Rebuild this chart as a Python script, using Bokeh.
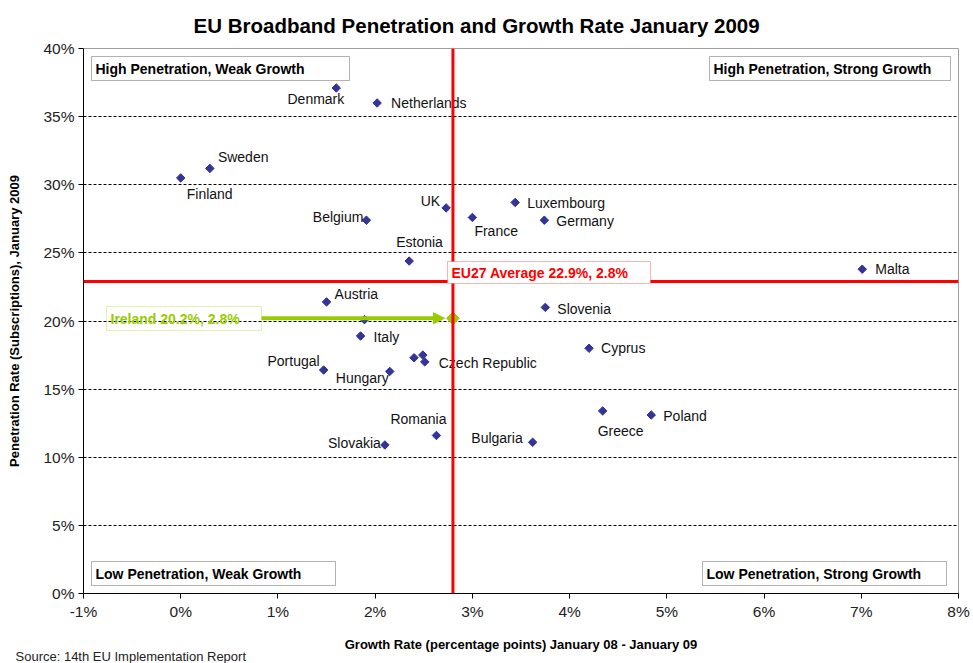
import math
from bokeh.plotting import figure
from bokeh.models import (Range1d, FixedTicker, PrintfTickFormatter, Span, Label, Title,
                          Arrow, NormalHead, BoxAnnotation, ColumnDataSource)
from bokeh.core.properties import value
from bokeh.embed import file_html
from bokeh.resources import INLINE

# ---------------- data ----------------
countries = ["Denmark", "Netherlands", "Sweden", "Finland", "Belgium", "UK", "France",
             "Luxembourg", "Germany", "Estonia", "Malta", "Austria", "", "Slovenia",
             "Italy", "Portugal", "Hungary", "", "", "Czech Republic", "Cyprus",
             "Romania", "Slovakia", "Bulgaria", "Greece", "Poland"]
growth = [1.60, 2.02, 0.30, 0.00, 1.91, 2.73, 3.00, 3.44, 3.74, 2.35, 7.01, 1.50, 1.89,
          3.75, 1.85, 1.47, 2.15, 2.40, 2.49, 2.51, 4.20, 2.63, 2.10, 3.62, 4.34, 4.84]
penetration = [37.1, 36.0, 31.2, 30.5, 27.4, 28.3, 27.6, 28.7, 27.4, 24.4, 23.8, 21.4, 20.1,
               21.0, 18.9, 16.4, 16.3, 17.3, 17.5, 17.0, 18.0, 11.6, 10.9, 11.1, 13.4, 13.1]
ireland_growth = 2.8
ireland_pen = 20.2
eu_growth = 2.8
eu_pen = 22.9
x_ticks = [-1, 0, 1, 2, 3, 4, 5, 6, 7, 8]
y_ticks = [0, 5, 10, 15, 20, 25, 30, 35, 40]

# ---------------- label layout (pixel offsets, style only) ----------------
label_layout = {
    "Denmark": (8, 11, "right"), "Netherlands": (14, 0, "left"),
    "Sweden": (8, -11, "left"), "Finland": (6, 16, "left"),
    "Belgium": (-3, -3, "right"), "UK": (-6, -7, "right"),
    "France": (2, 14, "left"), "Luxembourg": (12, 1, "left"),
    "Germany": (12, 1, "left"), "Estonia": (-13, -19, "left"),
    "Malta": (13, 0, "left"), "Austria": (8, -8, "left"),
    "Slovenia": (12, 2, "left"), "Italy": (13, 1, "left"),
    "Portugal": (-4, -9, "right"), "Hungary": (-1, 7, "right"),
    "Czech Republic": (14, 1, "left"), "Cyprus": (12, 0, "left"),
    "Romania": (10, -16, "right"), "Slovakia": (-4, -2, "right"),
    "Bulgaria": (-10, -4, "right"), "Greece": (-5, 20, "left"),
    "Poland": (12, 1, "left"),
}

W, H = 973, 663
FL, FR, FT, FB = 83, 958, 48, 593
X0, X1 = x_ticks[0], x_ticks[-1]
Y0, Y1 = y_ticks[0], y_ticks[-1]


def px_x(px):
    return X0 + (px - FL) * (X1 - X0) / (FR - FL)


def px_y(py):
    return Y1 - (py - FT) * (Y1 - Y0) / (FB - FT)


FONT = "Liberation Sans"
GREEN = "#99CC00"
BLUE = "#333399"

p = figure(width=W, height=H, x_range=Range1d(X0, X1), y_range=Range1d(Y0, Y1),
           output_backend="svg", toolbar_location=None,
           min_border_left=FL, min_border_right=W - FR, min_border_top=FT,
           min_border_bottom=H - FB)

p.title.text = "EU Broadband Penetration and Growth Rate January 2009"
p.title.align = "left"
p.title.offset = 110
p.title.text_font = FONT
p.title.text_font_size = "20.5px"
p.title.text_font_style = "bold"
p.title.text_color = "black"
p.title.standoff = 23

p.outline_line_color = "#a0a0a0"
p.background_fill_color = "white"
p.border_fill_color = "white"

# axes
p.xaxis.ticker = FixedTicker(ticks=x_ticks)
p.yaxis.ticker = FixedTicker(ticks=y_ticks)
p.xaxis.formatter = PrintfTickFormatter(format="%d%%")
p.yaxis.formatter = PrintfTickFormatter(format="%d%%")
for ax in (p.xaxis, p.yaxis):
    ax.minor_tick_line_color = None
    ax.major_tick_in = 0
    ax.major_tick_out = 5
    ax.axis_line_color = "black"
    ax.major_tick_line_color = "black"
    ax.major_label_text_font = FONT
    ax.major_label_text_font_size = "15.5px"
    ax.major_label_text_color = "#222222"
    ax.axis_label_text_font = FONT
    ax.axis_label_text_font_style = "bold"
    ax.axis_label_text_font_size = "13px"
    ax.axis_label_text_color = "black"
    ax.major_label_standoff = 4
p.xaxis.axis_label = "Growth Rate (percentage points) January 08 - January 09"
p.yaxis.axis_label = "Penetration Rate (Subscriptions), January 2009"
p.xaxis.axis_label_standoff = 14
p.yaxis.axis_label_standoff = 18

p.xgrid.grid_line_color = None
p.ygrid.ticker = FixedTicker(ticks=y_ticks[1:-1])
p.ygrid.grid_line_color = "black"
p.ygrid.grid_line_dash = "3 2"
p.ygrid.grid_line_width = 1

# source note below the axis
p.add_layout(Title(text="Source: 14th EU Implementation Report", align="left",
                   offset=-68, text_font=FONT, text_font_size="13px",
                   text_font_style="normal", text_color="#222222", standoff=-19),
             "below")

# points
src = ColumnDataSource(dict(x=growth, y=penetration, name=countries))
p.scatter("x", "y", source=src, marker="square", angle=math.pi / 4, size=6,
          color=BLUE)

lab = dict(x=[], y=[], text=[], dx=[], dy=[], align=[])
for c, gx, py in zip(countries, growth, penetration):
    if c in label_layout:
        dx, dy, al = label_layout[c]
        lab["x"].append(gx)
        lab["y"].append(py)
        lab["text"].append(c)
        lab["dx"].append(dx)
        lab["dy"].append(dy)
        lab["align"].append(al)
p.text("x", "y", text="text", x_offset="dx", y_offset="dy", text_align="align",
       text_baseline="middle", source=ColumnDataSource(lab),
       text_font=value(FONT), text_font_size="14px", text_color="#111111")


def boxed(l, t, r, b, text, color="black", fill="white", size="14px"):
    p.add_layout(BoxAnnotation(left=px_x(l), right=px_x(r), top=px_y(t), bottom=px_y(b),
                               fill_color=fill if fill else "white",
                               fill_alpha=1.0 if fill else 0.0,
                               line_color=color, line_width=1, level="annotation"))
    p.add_layout(Label(x=px_x(l + 4), y=px_y((t + b) / 2), text=text,
                       text_baseline="middle", text_align="left",
                       text_font=FONT, text_font_size=size, text_font_style="bold",
                       text_color=color))


# quadrant boxes
boxed(91, 56, 349, 80, "High Penetration, Weak Growth")
boxed(709, 56, 950, 80, "High Penetration, Strong Growth")
boxed(91, 561, 335, 585, "Low Penetration, Weak Growth", size="14px")
boxed(702, 561, 946, 585, "Low Penetration, Strong Growth", size="14px")

# EU average lines
p.add_layout(Span(location=eu_growth, dimension="height", line_color="red", line_width=3))
p.add_layout(Span(location=eu_pen, dimension="width", line_color="red", line_width=3))
boxed(447, 261, 650, 283, f"EU27 Average {eu_pen}%, {eu_growth}%", color="red", size="14px")

# Ireland
boxed(106, 306, 261, 330, f"Ireland {ireland_pen}%, {ireland_growth}%", color=GREEN,
      fill=None, size="14px")
p.add_layout(Arrow(end=NormalHead(size=11, fill_color=GREEN, line_color=GREEN),
                   x_start=px_x(261), y_start=ireland_pen,
                   x_end=px_x(444), y_end=ireland_pen,
                   line_color=GREEN, line_width=4))
p.scatter([ireland_growth], [ireland_pen], marker="square", angle=math.pi / 4, size=9,
          color=GREEN)

open("out.html", "w").write(file_html(p, INLINE))
